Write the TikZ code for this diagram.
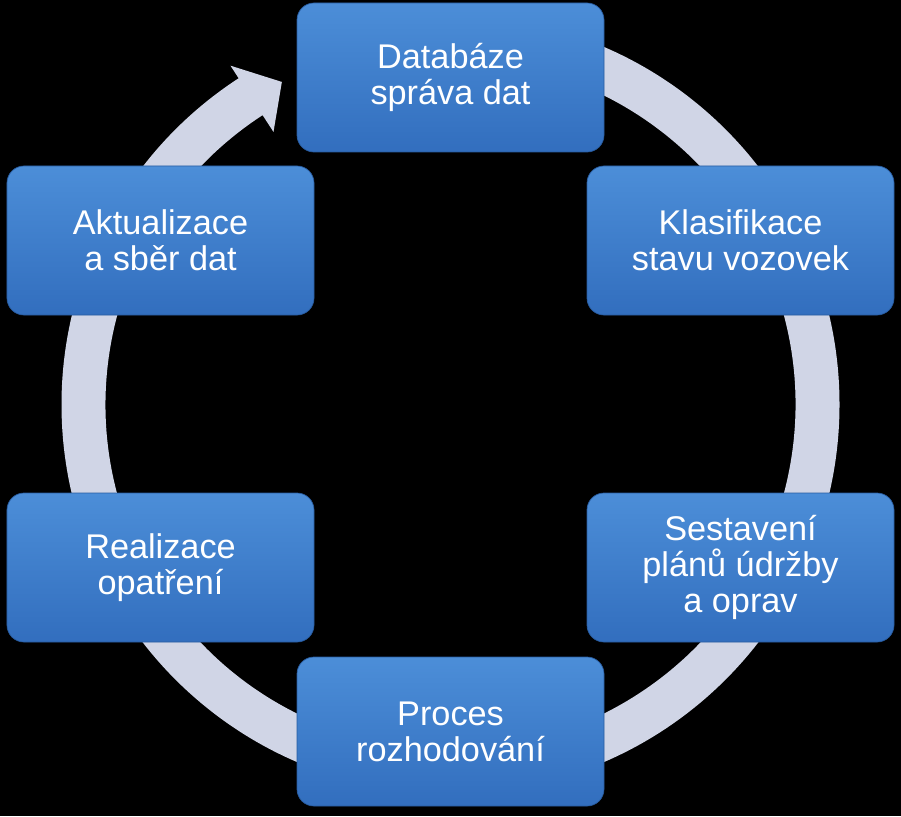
\documentclass[tikz,border=0pt]{standalone}
\usepackage{fontspec}
\setmainfont{Liberation Sans}
\definecolor{ringgray}{RGB}{208,213,230}
\definecolor{boxtop}{RGB}{76,142,216}
\definecolor{boxbottom}{RGB}{50,110,190}
\definecolor{boxedge}{RGB}{40,92,160}
\tikzset{stage/.style={rectangle, rounded corners=3.4mm, minimum width=61.4mm, minimum height=29.8mm,
  top color=boxtop, bottom color=boxbottom, draw=boxedge, line width=0.4pt,
  text=white, align=center, inner sep=0pt, font=\fontsize{19.5}{20.5}\selectfont}}

\begin{document}
\begin{tikzpicture}[x=0.2mm,y=0.2mm]
\useasboundingbox (0,0) rectangle (901,816);
\fill[black] (0,0) rectangle (901,816);
% ring with arrow head
\fill[ringgray, shift={(450.5,411.5)}] (90:389) arc[start angle=90, end angle=-237, radius=389]
  -- (-237:404) -- (-242.4:364) -- (-237:325) -- (-237:345)
  arc[start angle=-237, end angle=90, radius=345] -- cycle;
\node[text=black, font=\fontsize{39}{40}\selectfont] (cyklus) at (450.5,408) {Roční cyklus SHV};
% stages
\node[stage] (databaze) at (450.5,738.5) {Databáze\\správa dat};
\node[stage] (klasifikace) at (740.5,575.5) {Klasifikace\\stavu vozovek};
\node[stage] (sestaveni) at (740.5,248.5) {Sestavení\\plánů údržby\\a oprav};
\node[stage] (proces) at (450.5,84.5) {Proces\\rozhodování};
\node[stage] (realizace) at (160.5,248.5) {Realizace\\opatření};
\node[stage] (aktualizace) at (160.5,575.5) {Aktualizace\\a sběr dat};
\end{tikzpicture}
\end{document}
